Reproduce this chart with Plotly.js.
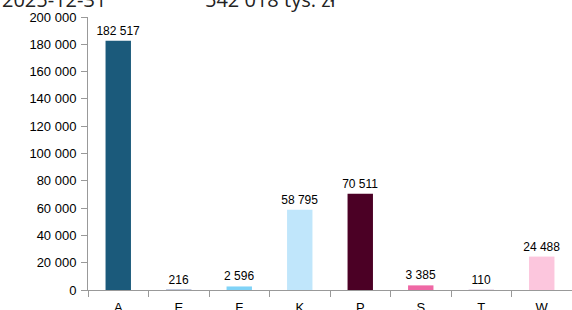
<!DOCTYPE html>
<html>
<head>
<meta charset="utf-8">
<script src="https://cdn.plot.ly/plotly-3.0.1.min.js"></script>
<style>html,body{margin:0;padding:0;background:#fff;overflow:hidden}#chart{width:572px;height:310px}</style>
</head>
<body>
<div id="chart"></div>
<script>
const categories = ["A", "E", "F", "K", "P", "S", "T", "W"];
const values = [182517, 216, 2596, 58795, 70511, 3385, 110, 24488];
const barColors = ["#1b5a7b", "#1f3f8f", "#80d3f7", "#c0e6fb", "#4b0025", "#ef68a5", "#7a3b8f", "#fcc6dd"];
const yTicks = [0, 20000, 40000, 60000, 80000, 100000, 120000, 140000, 160000, 180000, 200000];
const dateText = "2025-12-31";
const totalText = "542 018 tys. zł";

const trace = {
  type: "bar",
  x: categories,
  y: values,
  marker: {color: barColors},
  texttemplate: "%{y:,}",
  textposition: "outside",
  constraintext: "none",
  textfont: {family: "Liberation Sans, Arial, sans-serif", size: 12, color: "#000"},
  cliponaxis: false,
  hoverinfo: "none"
};

const layout = {
  width: 572,
  height: 310,
  margin: {l: 88, r: 0, t: 17, b: 20},
  paper_bgcolor: "#fff",
  plot_bgcolor: "#fff",
  separators: ", ",
  bargap: 0.58,
  showlegend: false,
  font: {family: "Liberation Sans, Arial, sans-serif", size: 13, color: "#000"},
  xaxis: {
    type: "category",
    showgrid: false,
    zeroline: false,
    showline: true,
    linecolor: "#999",
    linewidth: 1,
    ticks: "outside",
    tickson: "boundaries",
    ticklen: 6,
    tickcolor: "#999",
    ticklabelstandoff: 5,
    tickfont: {size: 13}
  },
  yaxis: {
    range: [0, 200000],
    tickvals: yTicks,
    tickformat: ",",
    showgrid: false,
    zeroline: false,
    showline: true,
    linecolor: "#999",
    linewidth: 1,
    ticks: "outside",
    ticklen: 6,
    tickcolor: "#999",
    ticklabelstandoff: 2,
    tickfont: {size: 13}
  },
  annotations: [
    {text: dateText, xref: "paper", yref: "paper", x: -88/484, y: 1 + 2/273, xanchor: "left", yanchor: "bottom",
     showarrow: false, font: {family: "Open Sans, sans-serif", size: 20, color: "#222"}},
    {text: totalText, xref: "paper", yref: "paper", x: (203-88)/484, y: 1 + 2/273, xanchor: "left", yanchor: "bottom",
     showarrow: false, font: {family: "Open Sans, sans-serif", size: 20, color: "#222"}}
  ]
};

Plotly.newPlot("chart", [trace], layout, {staticPlot: true, displayModeBar: false});
</script>
</body>
</html>
